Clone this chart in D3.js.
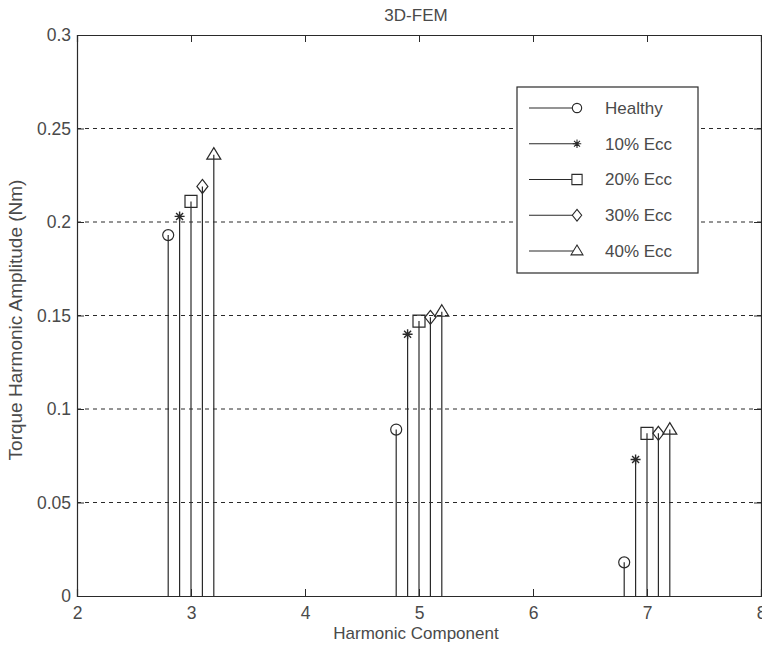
<!DOCTYPE html>
<html>
<head>
<meta charset="utf-8">
<script src="https://cdn.jsdelivr.net/npm/d3@7"></script>
<style>
  body { margin: 0; background: #fff; }
  svg { display: block; font-family: "Liberation Sans", Arial, sans-serif; }
  .tick text { fill: #4a4a4a; font-size: 17.5px; }
</style>
</head>
<body>
<div id="chart"></div>
<script>
const harmonics = [3, 5, 7];
const seriesNames = ['Healthy', '10% Ecc', '20% Ecc', '30% Ecc', '40% Ecc'];
const offsets = [-0.2, -0.1, 0, 0.1, 0.2];
const healthy = [0.193, 0.089, 0.018];
const ecc10 = [0.203, 0.140, 0.073];
const ecc20 = [0.211, 0.147, 0.087];
const ecc30 = [0.219, 0.149, 0.087];
const ecc40 = [0.236, 0.152, 0.089];
const seriesValues = [healthy, ecc10, ecc20, ecc30, ecc40];
const markers = ['circle', 'star', 'square', 'diamond', 'triangle'];
const xTicks = [2, 3, 4, 5, 6, 7, 8];
const yTicks = [0, 0.05, 0.1, 0.15, 0.2, 0.25, 0.3];

const width = 762, height = 647;
const margin = {top: 35, right: 1, bottom: 51, left: 77};
const ink = '#2a2a2a';
const textInk = '#4a4a4a';

const svg = d3.select('#chart').append('svg')
    .attr('width', width)
    .attr('height', height);

const x = d3.scaleLinear().domain([2, 8]).range([margin.left, width - margin.right]);
const y = d3.scaleLinear().domain([0, 0.3]).range([height - margin.bottom, margin.top]);

// grid
svg.append('g')
    .selectAll('line')
    .data(yTicks.filter(v => v > 0 && v < 0.3))
    .join('line')
    .attr('x1', x(2)).attr('x2', x(8))
    .attr('y1', d => y(d)).attr('y2', d => y(d))
    .attr('stroke', ink)
    .attr('stroke-width', 1)
    .attr('stroke-dasharray', '4,4');

// axes, ticks pointing inward
const fmt = d => d === 0 ? '0' : String(+d.toFixed(2));
const axBottom = svg.append('g')
    .attr('transform', `translate(0,${y(0)})`)
    .call(d3.axisBottom(x).tickValues(xTicks).tickSize(-7).tickPadding(11).tickFormat(d3.format('d')));
const axTop = svg.append('g')
    .attr('transform', `translate(0,${y(0.3)})`)
    .call(d3.axisTop(x).tickValues(xTicks).tickSize(-7).tickFormat(''));
const axLeft = svg.append('g')
    .attr('transform', `translate(${x(2)},0)`)
    .call(d3.axisLeft(y).tickValues(yTicks).tickSize(-7).tickPadding(6).tickFormat(fmt));
const axRight = svg.append('g')
    .attr('transform', `translate(${x(8)},0)`)
    .call(d3.axisRight(y).tickValues(yTicks).tickSize(-7).tickFormat(''));

[axBottom, axTop, axLeft, axRight].forEach(g => {
    g.select('.domain').attr('stroke', ink).attr('stroke-width', 1.2);
    g.selectAll('.tick line').attr('stroke', ink);
});

// marker shapes
function markerPath(type) {
    switch (type) {
        case 'circle': return d3.symbol(d3.symbolCircle, 95)();
        case 'square': return 'M-6,-6H6V6H-6Z';
        case 'diamond': return 'M0,-7L5.5,0L0,7L-5.5,0Z';
        case 'triangle': return 'M0,-7L7,4.5H-7Z';
        case 'star': return 'M-5,0H5M0,-5V5M-3.5,-3.5L3.5,3.5M-3.5,3.5L3.5,-3.5';
    }
}

// stems
const stems = svg.append('g');
seriesValues.forEach((vals, si) => {
    const g = stems.append('g');
    g.selectAll('line')
        .data(vals)
        .join('line')
        .attr('x1', (d, i) => x(harmonics[i] + offsets[si]))
        .attr('x2', (d, i) => x(harmonics[i] + offsets[si]))
        .attr('y1', y(0))
        .attr('y2', d => y(d))
        .attr('stroke', ink)
        .attr('stroke-width', 1.2);
    g.selectAll('path')
        .data(vals)
        .join('path')
        .attr('transform', (d, i) => `translate(${x(harmonics[i] + offsets[si])},${y(d)})`)
        .attr('d', markerPath(markers[si]))
        .attr('fill', markers[si] === 'star' ? ink : 'none')
        .attr('stroke', ink)
        .attr('stroke-width', markers[si] === 'star' ? 1.4 : 1.2);
});

// legend
const legend = svg.append('g').attr('transform', 'translate(517,87)');
legend.append('rect')
    .attr('width', 181).attr('height', 186)
    .attr('fill', '#fff')
    .attr('stroke', ink)
    .attr('stroke-width', 1.2);
const items = legend.selectAll('g.item')
    .data(seriesNames)
    .join('g')
    .attr('class', 'item')
    .attr('transform', (d, i) => `translate(0,${21 + i * 35.75})`);
items.append('line')
    .attr('x1', 12).attr('x2', 60)
    .attr('stroke', ink).attr('stroke-width', 1.2);
items.append('path')
    .attr('transform', 'translate(60,0) scale(0.85)')
    .attr('d', (d, i) => markerPath(markers[i]))
    .attr('fill', (d, i) => markers[i] === 'star' ? ink : '#fff')
    .attr('stroke', ink)
    .attr('stroke-width', 1.3);
items.append('text')
    .attr('x', 88)
    .attr('dy', '0.35em')
    .attr('fill', textInk)
    .style('font-size', '17px')
    .text(d => d);

// title and axis labels
svg.append('text')
    .attr('x', 416)
    .attr('y', 21)
    .attr('text-anchor', 'middle')
    .attr('fill', textInk)
    .style('font-size', '17px')
    .text('3D-FEM');
svg.append('text')
    .attr('x', 416)
    .attr('y', 639)
    .attr('text-anchor', 'middle')
    .attr('fill', textInk)
    .style('font-size', '17px')
    .text('Harmonic Component');
svg.append('text')
    .attr('transform', 'translate(22,320) rotate(-90)')
    .attr('text-anchor', 'middle')
    .attr('fill', textInk)
    .style('font-size', '19px')
    .text('Torque Harmonic Amplitude (Nm)');
</script>
</body>
</html>
